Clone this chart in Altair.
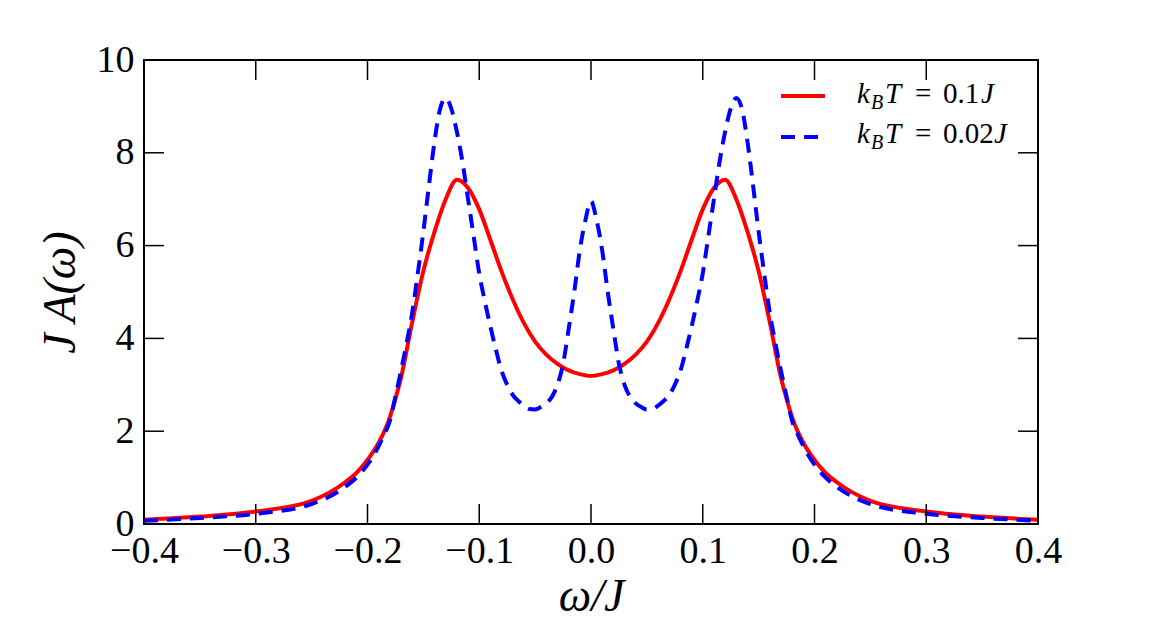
import altair as alt
import pandas as pd

# Spectral function J*A(omega) read along omega/J for two temperatures
omega_red = [-0.40, -0.35, -0.30, -0.25, -0.22, -0.21, -0.20, -0.19, -0.18, -0.175,
             -0.17, -0.16, -0.15, -0.14, -0.13, -0.12, -0.11, -0.10, -0.09, -0.08,
             -0.07, -0.06, -0.05, -0.04, -0.03, -0.02, -0.01, 0.00, 0.01, 0.02,
             0.03, 0.04, 0.05, 0.06, 0.07, 0.08, 0.09, 0.10, 0.11, 0.12,
             0.13, 0.14, 0.15, 0.16, 0.17, 0.175, 0.18, 0.19, 0.20, 0.21,
             0.22, 0.25, 0.30, 0.35, 0.40]
spec_red = [0.09, 0.16, 0.27, 0.50, 0.90, 1.10, 1.38, 1.75, 2.30, 2.70,
            3.15, 4.35, 5.45, 6.30, 7.00, 7.42, 7.24, 6.78, 6.12, 5.44,
            4.84, 4.33, 3.93, 3.65, 3.45, 3.31, 3.23, 3.19, 3.23, 3.31,
            3.45, 3.65, 3.93, 4.33, 4.84, 5.44, 6.12, 6.78, 7.24, 7.42,
            7.00, 6.30, 5.45, 4.35, 3.15, 2.70, 2.30, 1.75, 1.38, 1.10,
            0.90, 0.50, 0.27, 0.16, 0.09]

omega_blue = [-0.40, -0.35, -0.30, -0.25, -0.22, -0.21, -0.20, -0.195, -0.19, -0.185,
              -0.18, -0.175, -0.17, -0.165, -0.16, -0.155, -0.15, -0.145, -0.14, -0.135,
              -0.13, -0.125, -0.12, -0.115, -0.11, -0.105, -0.10, -0.095, -0.09, -0.085,
              -0.08, -0.075, -0.07, -0.065, -0.06, -0.055, -0.05, -0.045, -0.04, -0.035,
              -0.03, -0.025, -0.02, -0.015, -0.01, -0.005, 0.00, 0.005, 0.01, 0.015,
              0.02, 0.025, 0.03, 0.035, 0.04, 0.045, 0.05, 0.055, 0.06, 0.065,
              0.07, 0.075, 0.08, 0.085, 0.09, 0.095, 0.10, 0.105, 0.11, 0.115,
              0.12, 0.125, 0.13, 0.135, 0.14, 0.145, 0.15, 0.155, 0.16, 0.165,
              0.17, 0.175, 0.18, 0.185, 0.19, 0.195, 0.20, 0.21, 0.22, 0.25,
              0.30, 0.35, 0.40]
spec_blue = [0.07, 0.13, 0.22, 0.43, 0.80, 1.00, 1.28, 1.46, 1.68, 1.93,
             2.22, 2.75, 3.30, 3.90, 4.55, 5.40, 6.30, 7.30, 8.25, 8.95,
             9.18, 8.95, 8.45, 7.80, 7.00, 6.20, 5.40, 4.80, 4.25, 3.75,
             3.30, 3.00, 2.78, 2.65, 2.55, 2.48, 2.47, 2.52, 2.60, 2.74,
             3.00, 3.45, 4.20, 5.00, 5.90, 6.55, 6.96, 6.55, 5.90, 5.00,
             4.20, 3.45, 3.00, 2.74, 2.60, 2.52, 2.47, 2.48, 2.55, 2.65,
             2.78, 3.00, 3.30, 3.75, 4.25, 4.80, 5.40, 6.20, 7.00, 7.80,
             8.45, 8.95, 9.18, 8.95, 8.25, 7.30, 6.30, 5.40, 4.55, 3.90,
             3.30, 2.75, 2.22, 1.93, 1.68, 1.46, 1.28, 1.00, 0.80, 0.43,
             0.22, 0.13, 0.07]

x_ticks = [-0.4, -0.3, -0.2, -0.1, 0.0, 0.1, 0.2, 0.3, 0.4]
y_ticks = [0, 2, 4, 6, 8, 10]

W, H = 894, 464
SERIF = "Liberation Serif"
TICK_LEN = 20

red_df = pd.DataFrame({"omega": omega_red, "A": spec_red})
blue_df = pd.DataFrame({"omega": omega_blue, "A": spec_blue})
xt_df = pd.DataFrame({"v": x_ticks})
yt_df = pd.DataFrame({"v": y_ticks})

x_scale = alt.Scale(domain=[-0.4, 0.4], nice=False, zero=False)
y_scale = alt.Scale(domain=[0, 10], nice=False)

x_axis = alt.Axis(values=x_ticks, format=".1f", title="ω/J", grid=False,
                  domain=False, ticks=False, labelFont=SERIF, labelFontSize=38,
                  labelColor="black", labelPadding=8, labelFlush=False,
                  titleFont=SERIF, titleFontSize=46, titleFontStyle="italic",
                  titleFontWeight="normal", titleColor="black", titlePadding=4)
y_axis = alt.Axis(values=y_ticks, format="d", title="J A(ω)", grid=False,
                  domain=False, ticks=False, labelFont=SERIF, labelFontSize=38,
                  labelColor="black", labelPadding=10, labelFlush=False,
                  titleFont=SERIF, titleFontSize=46, titleFontStyle="italic",
                  titleFontWeight="normal", titleColor="black", titlePadding=12)

red_line = alt.Chart(red_df).mark_line(
    color="#ff0000", strokeWidth=4, interpolate="monotone", clip=True
).encode(
    x=alt.X("omega:Q", scale=x_scale, axis=x_axis),
    y=alt.Y("A:Q", scale=y_scale, axis=y_axis),
)

blue_line = alt.Chart(blue_df).mark_line(
    color="#0000ff", strokeWidth=4, strokeDash=[14, 9], interpolate="monotone",
    clip=True
).encode(
    x=alt.X("omega:Q", scale=x_scale),
    y=alt.Y("A:Q", scale=y_scale),
)

# inward ticks on all four sides
tick_style = dict(color="black", strokeWidth=1.5)
x_bottom = alt.Chart(xt_df).mark_rule(**tick_style).encode(
    x=alt.X("v:Q", scale=x_scale), y=alt.value(H), y2=alt.value(H - TICK_LEN))
x_top = alt.Chart(xt_df).mark_rule(**tick_style).encode(
    x=alt.X("v:Q", scale=x_scale), y=alt.value(0), y2=alt.value(TICK_LEN))
y_left = alt.Chart(yt_df).mark_rule(**tick_style).encode(
    y=alt.Y("v:Q", scale=y_scale), x=alt.value(0), x2=alt.value(TICK_LEN))
y_right = alt.Chart(yt_df).mark_rule(**tick_style).encode(
    y=alt.Y("v:Q", scale=y_scale), x=alt.value(W), x2=alt.value(W - TICK_LEN))

# legend: sample lines
leg_red = alt.Chart(pd.DataFrame({"s": ["a"]})).mark_rule(
    color="#ff0000", strokeWidth=4).encode(
    x=alt.value(637), x2=alt.value(681), y=alt.value(36))
leg_blue = alt.Chart(pd.DataFrame({"s": ["b"]})).mark_rule(
    color="#0000ff", strokeWidth=4, strokeDash=[14, 9]).encode(
    x=alt.value(637), x2=alt.value(681), y=alt.value(77))


def legend_label(value_text, baseline_y, j_x):
    """k_B T = <value> J built from pieces so the subscript sits low."""
    pieces = [
        ("k", 713, baseline_y, 29, "italic"),
        ("B", 727, baseline_y + 6, 20, "italic"),
        ("T", 741, baseline_y, 29, "italic"),
        ("=", 771, baseline_y, 29, "normal"),
        (value_text, 799, baseline_y, 29, "normal"),
        ("J", j_x, baseline_y, 29, "italic"),
    ]
    layers = []
    for txt, px, py, fs, style in pieces:
        layers.append(
            alt.Chart(pd.DataFrame({"t": [txt]})).mark_text(
                font=SERIF, fontSize=fs, fontStyle=style, color="black",
                align="left", baseline="alphabetic"
            ).encode(text="t:N", x=alt.value(px), y=alt.value(py))
        )
    return layers


legend_text = legend_label("0.1", 43, 837) + legend_label("0.02", 83, 850)

chart = alt.layer(
    red_line, blue_line, x_bottom, x_top, y_left, y_right,
    leg_red, leg_blue, *legend_text
).properties(
    width=W, height=H,
    background="white",
    autosize=alt.AutoSizeParams(type="none"),
    padding={"left": 144, "top": 60, "right": 117, "bottom": 103},
).configure_view(
    stroke="black", strokeWidth=2
)

chart.save("out.html", embed_options={"renderer": "svg", "actions": False})
